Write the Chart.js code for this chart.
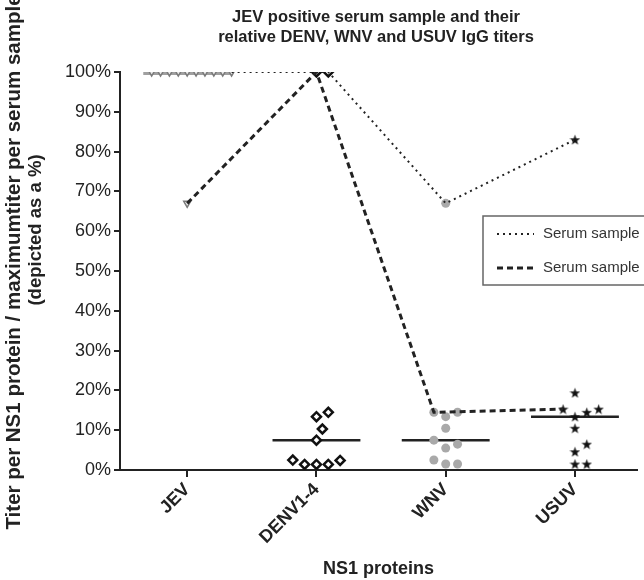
<!DOCTYPE html>
<html>
<head>
<meta charset="utf-8">
<script src="https://cdn.jsdelivr.net/npm/chart.js@4.4.1/dist/chart.umd.min.js"></script>
<style>
html, body { margin: 0; padding: 0; background: #fff; overflow: hidden; }
#wrap { position: relative; width: 644px; height: 580px; }
</style>
</head>
<body>
<div id="wrap"><canvas id="dotChart"></canvas></div>
<script>
// values (titer as % of the sample's max titer)
const categories = ['JEV', 'DENV1-4', 'WNV', 'USUV'];
const jevTiters = [100, 100, 100, 100, 100, 100, 100, 100, 100, 100, 67];
const denvTiters = [100, 100, 14.5, 13.4, 10.3, 7.5, 2.5, 2.4, 1.4, 1.4, 1.4];
const wnvTiters = [67, 14.5, 14.5, 13.4, 10.5, 7.5, 6.5, 5.5, 2.5, 1.5, 1.5];
const usuvTiters = [83, 19.4, 15.3, 15.3, 14.5, 13.4, 10.5, 6.5, 4.6, 1.5, 1.5];
const serumDotted = [100, 100, 67, 83];
const serumDashed = [67, 100, 14.5, 15.3];
const yTicks = [0, 10, 20, 30, 40, 50, 60, 70, 80, 90, 100];

const FONT = '"Liberation Sans", Arial, sans-serif';
const PX_X = 131, PX_Y = 3.98; // rough px per x unit / per %

// simple beeswarm so equal values sit side by side like in Prism
function swarm(values, cat, diam) {
  const placed = [];
  const pts = new Array(values.length);
  const order = values.map((v, i) => i).sort((a, b) => values[a] - values[b]);
  for (const i of order) {
    const y = values[i] * PX_Y;
    for (let k = 0; k < 60; k++) {
      const dx = (k % 2 ? 1 : -1) * Math.ceil(k / 2) * diam / 2;
      if (placed.every(p => Math.hypot(p.x - dx, p.y - y) >= diam - 0.5)) {
        placed.push({ x: dx, y: y });
        pts[i] = { x: cat + dx / PX_X, y: values[i] };
        break;
      }
    }
  }
  return pts;
}

function median(arr) {
  const s = [...arr].sort((a, b) => a - b);
  const m = Math.floor(s.length / 2);
  return s.length % 2 ? s[m] : (s[m - 1] + s[m]) / 2;
}

function starImage(size, color) {
  const c = document.createElement('canvas');
  c.width = c.height = size;
  const g = c.getContext('2d');
  g.fillStyle = color;
  g.beginPath();
  for (let i = 0; i < 10; i++) {
    const r = i % 2 ? size * 0.2 : size / 2;
    const a = -Math.PI / 2 + i * Math.PI / 5;
    g.lineTo(size / 2 + r * Math.cos(a), size / 2 + r * Math.sin(a) + 0.5);
  }
  g.closePath();
  g.fill();
  return c;
}

const groups = [jevTiters, denvTiters, wnvTiters, usuvTiters];
const groupPts = [
  swarm(jevTiters, 1, 9),
  swarm(denvTiters, 2, 12),
  swarm(wnvTiters, 3, 12),
  swarm(usuvTiters, 4, 12)
];

function serumLine(values, side) {
  return values.map((v, c) => {
    const cands = groupPts[c].filter(p => p.y === v).sort((a, b) => a.x - b.x);
    const p = side === 'right' ? cands[cands.length - 1] : cands[0];
    return { x: p.x, y: v };
  });
}

const medianSets = groups.map((g, c) => {
  const m = median(g);
  return {
    type: 'line',
    data: [{ x: c + 1 - 0.34, y: m }, { x: c + 1 + 0.34, y: m }],
    borderColor: c === 0 ? '#a0a0a0' : '#222',
    borderWidth: c === 0 ? 6 : 2.5,
    pointRadius: 0,
    order: 5
  };
});

const ctx = document.getElementById('dotChart').getContext('2d');

const figureText = {
  id: 'figureText',
  afterDraw(chart) {
    const g = chart.ctx;
    g.save();
    g.fillStyle = '#222';
    g.textAlign = 'center';
    g.textBaseline = 'middle';
    g.font = 'bold 16.5px ' + FONT;
    g.fillText('JEV positive serum sample and their', 376, 17);
    g.fillText('relative DENV, WNV and USUV IgG titers', 376, 37);

    // y axis title, two lines
    g.save();
    g.translate(14, 262);
    g.rotate(-Math.PI / 2);
    g.font = 'bold 20.5px ' + FONT;
    g.fillText('Titer per NS1 protein / maximumtiter per serum sample', 0, 0);
    g.restore();
    g.save();
    g.translate(36, 230);
    g.rotate(-Math.PI / 2);
    g.font = 'bold 18.5px ' + FONT;
    g.fillText('(depicted as a %)', 0, 0);
    g.restore();

    // legend box (partly cut by the right edge, like the original)
    const bx = 483, by = 216;
    g.fillStyle = '#fff';
    g.fillRect(bx, by, 220, 69);
    g.strokeStyle = '#666';
    g.lineWidth = 1.5;
    g.strokeRect(bx, by, 220, 69);
    const items = chart.data.datasets.filter(d => d.label);
    items.forEach((d, i) => {
      const y = by + 18 + i * 34;
      g.strokeStyle = d.borderColor;
      g.lineWidth = d.borderWidth;
      g.setLineDash(d.borderDash);
      g.beginPath();
      g.moveTo(497, y);
      g.lineTo(534, y);
      g.stroke();
      g.setLineDash([]);
      g.fillStyle = '#333';
      g.textAlign = 'left';
      g.font = '15px ' + FONT;
      g.fillText(d.label, 543, y);
    });
    g.restore();
  }
};

const dotChart = new Chart(ctx, {
  type: 'scatter',
  data: {
    datasets: [
      {
        label: 'Serum sample',
        type: 'line',
        data: serumLine(serumDotted, 'right'),
        borderColor: '#222',
        borderWidth: 2,
        borderDash: [2, 4],
        pointRadius: 0,
        order: 1
      },
      {
        label: 'Serum sample',
        type: 'line',
        data: serumLine(serumDashed, 'left'),
        borderColor: '#222',
        borderWidth: 3,
        borderDash: [6, 4],
        pointRadius: 0,
        order: 1
      },
      {
        data: groupPts[0],
        pointStyle: 'triangle',
        rotation: 180,
        pointRadius: 4,
        backgroundColor: '#e8e8e8',
        borderColor: '#7a7a7a',
        borderWidth: 1.5,
        order: 2
      },
      {
        data: groupPts[1],
        pointStyle: 'rectRot',
        pointRadius: 4.5,
        backgroundColor: '#fff',
        borderColor: '#111',
        borderWidth: 2.5,
        order: 2
      },
      {
        data: groupPts[2],
        pointStyle: 'circle',
        pointRadius: 4.5,
        backgroundColor: '#a9a9a9',
        borderColor: '#a9a9a9',
        borderWidth: 0,
        order: 2
      },
      {
        data: groupPts[3],
        pointStyle: starImage(11, '#111'),
        pointRadius: 5,
        order: 2
      },
      ...medianSets
    ]
  },
  options: {
    responsive: true,
    maintainAspectRatio: false,
    animation: false,
    layout: { padding: { top: 72, right: 0, left: 0, bottom: 0 } },
    plugins: {
      legend: { display: false },
      tooltip: { enabled: false }
    },
    scales: {
      x: {
        type: 'linear',
        min: 0.48,
        max: 4.48,
        afterBuildTicks: s => { s.ticks = categories.map((c, i) => ({ value: i + 1 })); },
        afterFit: s => { s.height = 110; },
        grid: { drawOnChartArea: false, drawTicks: true, tickLength: 7, color: '#222', lineWidth: 2 },
        border: { display: true, color: '#222', width: 2 },
        ticks: {
          minRotation: 45,
          maxRotation: 45,
          padding: 2,
          color: '#222',
          font: { family: FONT, size: 18, weight: 'bold' },
          callback: v => categories[v - 1]
        },
        title: {
          display: true,
          text: 'NS1 proteins',
          color: '#222',
          padding: { top: 0, bottom: 0 },
          font: { family: FONT, size: 18, weight: 'bold' }
        }
      },
      y: {
        min: 0,
        max: 100,
        afterBuildTicks: s => { s.ticks = yTicks.map(v => ({ value: v })); },
        afterFit: s => { s.width = 120; },
        grid: { drawOnChartArea: false, drawTicks: true, tickLength: 6, color: '#222', lineWidth: 2 },
        border: { display: true, color: '#222', width: 2 },
        ticks: {
          padding: 3,
          color: '#222',
          font: { family: FONT, size: 18 },
          callback: v => v + '%'
        }
      }
    }
  },
  plugins: [figureText]
});
</script>
</body>
</html>
